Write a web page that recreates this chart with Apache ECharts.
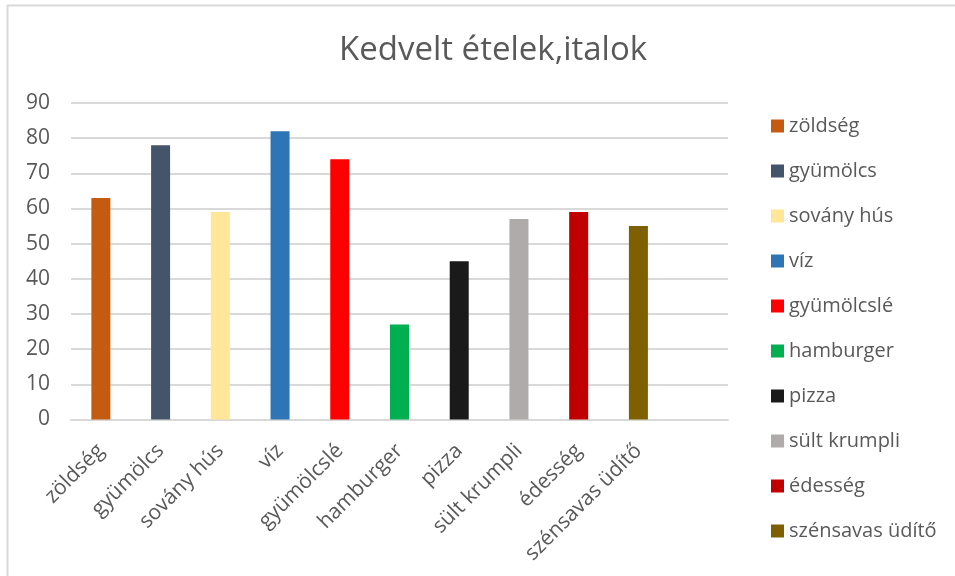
<!DOCTYPE html>
<html>
<head>
    <meta charset="utf-8">
    <title>Kedvelt ételek,italok</title>
    <script src="https://cdn.jsdelivr.net/npm/echarts@6/dist/echarts.min.js"></script>
    <style>
        html, body { margin: 0; padding: 0; background: #fff; }
        #main { width: 955px; height: 576px; }
    </style>
</head>
<body>
    <div id="main"></div>
    <script type="text/javascript">
        // categories and values
        var categories = ['zöldség', 'gyümölcs', 'sovány hús', 'víz', 'gyümölcslé', 'hamburger', 'pizza', 'sült krumpli', 'édesség', 'szénsavas üdítő'];
        var values = [63, 78, 59, 82, 74, 27, 45, 57, 59, 55];
        var colors = ['#c55a11', '#44546a', '#ffe699', '#2e75b6', '#ff0000', '#00b050', '#1a1a1a', '#afabab', '#c00000', '#7f6000'];
        var yTicks = [0, 10, 20, 30, 40, 50, 60, 70, 80, 90];

        var font = '"Open Sans", Lato, sans-serif';
        var textColor = '#595959';

        // the chart has one empty slot after the last category
        var axisData = categories.concat(['']);

        var myChart = echarts.init(document.getElementById('main'));

        var series = [];
        for (var i = 0; i < categories.length; i++) {
            var d = [];
            for (var j = 0; j < axisData.length; j++) {
                d.push(j == i ? values[i] : '-');
            }
            series.push({
                name: categories[i],
                type: 'bar',
                stack: 'all',
                barWidth: 19,
                itemStyle: { color: colors[i] },
                data: d
            });
        }

        var option = {
            backgroundColor: '#fff',
            animation: false,
            title: {
                text: 'Kedvelt ételek,italok',
                left: 334,
                top: 29,
                textStyle: { fontFamily: font, fontSize: 33, fontWeight: 'normal', color: textColor }
            },
            graphic: [{
                type: 'rect',
                shape: { x: 7.5, y: 5.5, width: 1000, height: 1000 },
                style: { fill: 'none', stroke: '#d9d9d9', lineWidth: 2 },
                silent: true
            }],
            legend: {
                orient: 'vertical',
                left: 766,
                top: 111,
                icon: 'rect',
                itemWidth: 13,
                itemHeight: 13,
                itemGap: 25,
                textStyle: { fontFamily: font, fontSize: 20, color: textColor },
                data: categories
            },
            grid: {
                left: 71,
                right: 227,
                top: 103,
                bottom: 156.5,
                outerBoundsMode: 'none',
                containLabel: false
            },
            xAxis: {
                type: 'category',
                data: axisData,
                axisTick: { show: false },
                axisLine: { lineStyle: { color: '#d9d9d9', width: 2 } },
                axisLabel: {
                    interval: 0,
                    rotate: 45,
                    margin: 28,
                    fontFamily: font,
                    fontSize: 21,
                    color: textColor
                }
            },
            yAxis: {
                type: 'value',
                min: yTicks[0],
                max: yTicks[yTicks.length - 1],
                interval: 10,
                axisLine: { show: false },
                axisTick: { show: false },
                splitLine: { lineStyle: { color: '#d9d9d9', width: 2 } },
                axisLabel: {
                    margin: 21,
                    fontFamily: font,
                    fontSize: 21,
                    color: textColor
                }
            },
            series: series
        };

        myChart.setOption(option);
    </script>
</body>
</html>
